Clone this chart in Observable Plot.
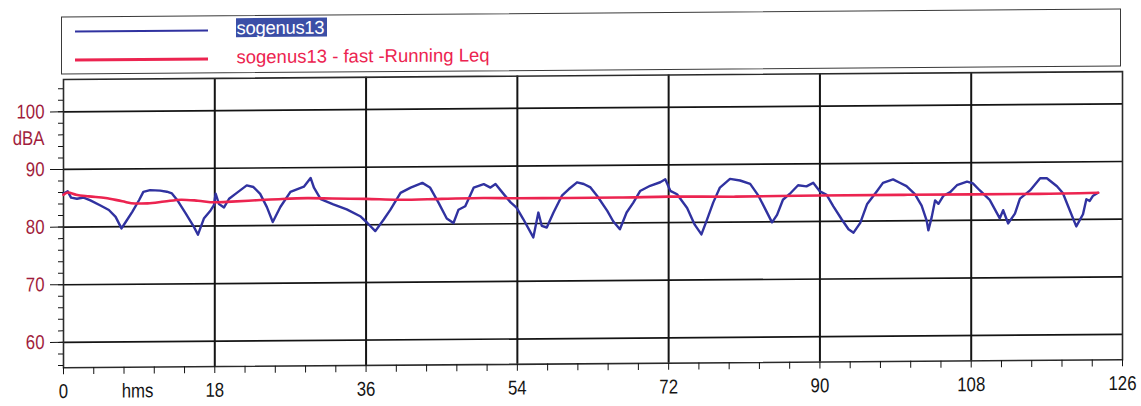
<!DOCTYPE html>
<html>
<head>
<meta charset="utf-8">
<script src="https://cdn.jsdelivr.net/npm/d3@7"></script>
<script src="https://cdn.jsdelivr.net/npm/@observablehq/plot@0.6"></script>
<style>
  html, body { margin: 0; padding: 0; background: #fff; }
  body { width: 1141px; height: 406px; overflow: hidden; font-family: "Liberation Sans", Arial, sans-serif; }
  /* the printed sheet sits very slightly tilted */
  #page { position: relative; width: 1141px; height: 406px; transform: skewY(-0.43deg); transform-origin: 0 0; }
  #chart { position: absolute; left: 0; top: 76px; }
  #legend { position: absolute; left: 61px; top: 17px; width: 1058px; height: 56px; border: 1.5px solid #3a3a3a; background: #fff; }
  .swatch { position: absolute; left: 12.5px; width: 133px; }
  .entry { position: absolute; left: 174.5px; font-size: 18.5px; line-height: 20px; white-space: pre; }
  .entry.selected { left: 173.5px; line-height: 19px; height: 19px; padding: 0 3px 0 1px; color: #fff; letter-spacing: -0.3px; }
</style>
</head>
<body>
<div id="page">
  <div id="chart"></div>
  <div id="legend"></div>
</div>
<script>
// Sound level, dBA, sampled along the hms time axis
const levelTime = [0.0, 0.5, 0.9, 1.6, 2.4, 3.2, 4.4, 5.4, 6.2, 6.9, 7.4, 8.2, 9.0, 9.5, 10.3, 11.5, 12.3, 12.9, 13.5, 14.5,
  15.5, 16.0, 16.7, 17.5, 17.9, 18.1, 18.5, 19.1, 19.7, 20.7, 21.8, 22.6, 23.4, 24.2, 24.9, 25.8, 27.0, 28.6, 29.4, 29.8,
  30.6, 32.1, 33.7, 35.3, 36.1, 37.1, 38.1, 38.9, 40.1, 41.3, 42.7, 43.6, 44.6, 45.6, 46.4, 47.0, 47.8, 48.8, 50.0, 50.8,
  51.4, 52.4, 53.2, 53.9, 54.7, 55.9, 56.5, 56.9, 57.5, 58.3, 59.3, 60.1, 61.1, 61.9, 62.7, 63.5, 64.7, 65.4, 66.2, 67.0,
  67.8, 68.6, 69.8, 71.0, 71.6, 72.2, 73.0, 74.2, 75.1, 75.9, 76.5, 77.3, 78.1, 79.3, 80.5, 81.7, 82.7, 83.5, 84.3, 84.9,
  85.6, 86.4, 87.4, 88.4, 89.2, 90.0, 90.8, 91.6, 92.6, 93.4, 94.0, 94.8, 95.6, 96.8, 97.5, 98.7, 99.5, 100.3, 101.3, 102.1,
  102.7, 102.9, 103.3, 103.7, 104.1, 104.7, 105.5, 106.3, 107.5, 108.2, 109.0, 110.2, 111.4, 111.8, 112.4, 113.2, 113.8, 115.0, 116.2, 117.0,
  118.2, 118.9, 119.7, 120.5, 121.3, 121.7, 122.1, 122.5, 123.1];
const levelDb = [85.8, 86.2, 85.1, 84.9, 85.1, 84.6, 83.7, 82.9, 81.7, 79.7, 80.8, 82.6, 84.6, 86.0, 86.3, 86.2, 86.0, 85.7, 84.6, 82.3,
  79.9, 78.5, 81.3, 82.7, 83.6, 85.6, 83.8, 83.2, 84.7, 85.8, 87.0, 86.7, 85.5, 83.2, 80.6, 83.2, 85.8, 86.7, 88.2, 86.5,
  84.5, 83.6, 82.7, 81.5, 80.4, 78.9, 80.9, 82.6, 85.5, 86.4, 87.2, 86.4, 83.8, 81.0, 80.2, 82.5, 83.1, 86.3, 86.9, 86.3,
  86.9, 85.1, 83.7, 82.8, 80.8, 77.6, 81.9, 79.6, 79.3, 81.9, 84.8, 85.9, 87.1, 86.8, 86.2, 84.7, 82.1, 80.3, 78.9, 81.8,
  83.5, 85.5, 86.4, 87.0, 87.5, 85.5, 84.9, 82.5, 79.6, 77.9, 80.2, 83.4, 86.0, 87.5, 87.2, 86.6, 84.5, 82.2, 79.9, 81.2,
  83.8, 84.8, 86.3, 86.1, 86.7, 85.2, 84.6, 82.6, 80.3, 78.6, 78.0, 79.7, 82.9, 85.2, 86.6, 87.2, 86.6, 86.0, 84.6, 82.6,
  80.0, 78.3, 80.6, 83.5, 82.9, 84.3, 84.9, 86.1, 86.7, 86.4, 85.2, 83.5, 80.3, 81.7, 79.4, 81.1, 83.7, 85.1, 87.2, 87.2,
  85.8, 84.6, 81.7, 78.8, 80.9, 83.5, 83.2, 84.1, 84.6];

// Running Leq (fast) of the same record
const leqTime = [0, 0.5, 1.5, 3, 5, 7, 8.5, 10, 12, 14, 16, 18, 20, 23, 26, 29, 32, 36, 40, 45, 50, 54, 60, 66, 72, 80, 90, 100, 108, 116, 123.1];
const leqDb = [85.6, 86.0, 85.6, 85.3, 85.0, 84.4, 84.0, 84.0, 84.3, 84.6, 84.4, 84.1, 84.2, 84.4, 84.6, 84.7, 84.6, 84.5, 84.3, 84.4,
  84.5, 84.4, 84.4, 84.4, 84.5, 84.4, 84.5, 84.5, 84.5, 84.5, 84.6];

// Series names and axis ticks
const seriesNames = ["sogenus13", "sogenus13 - fast -Running Leq"];
const seriesColors = ["#3032a0", "#ec2450"];
const xMajorTicks = [0, 18, 36, 54, 72, 90, 108, 126];
const xMinorTicks = d3.range(0, 36).map(i => +(i * 3.6).toFixed(1));
const yMajorTicks = [60, 70, 80, 90, 100];
const yMinorTicks = d3.range(56, 106, 2);
const xUnit = "hms";
const yUnit = "dBA";
const yUnitAt = [95.4];

const level = levelTime.map((t, i) => ({t, db: levelDb[i]}));
const leq = leqTime.map((t, i) => ({t, db: leqDb[i]}));

const ink = "#141414";
const tickRed = "#a11d3d";

const chart = Plot.plot({
  width: 1141,
  height: 330,
  marginLeft: 63,
  marginRight: 19,
  marginTop: 3.5,
  marginBottom: 38.3,
  x: {domain: [0, 126], axis: null},
  y: {domain: [55.6, 105.6], axis: null},
  style: {fontFamily: "'Liberation Sans', Arial, sans-serif", fontSize: "20px", background: "transparent", color: ink},
  marks: [
    Plot.gridY(yMajorTicks, {stroke: ink, strokeOpacity: 1, strokeWidth: 1.7}),
    Plot.gridX(xMajorTicks.filter(v => v > 0 && v < 126), {stroke: ink, strokeOpacity: 1, strokeWidth: 2}),
    Plot.frame({stroke: "#2a2a2a", strokeWidth: 1.6}),
    Plot.axisY(yMinorTicks, {anchor: "left", tickSize: 5, stroke: ink, tickFormat: () => "", label: null}),
    Plot.axisY(yMajorTicks, {anchor: "left", tickSize: 13, tickPadding: 6, stroke: ink, fill: tickRed, fontSize: 20, label: null}),
    Plot.text(yUnitAt, {y: d => d, text: () => yUnit, frameAnchor: "left", dx: -19, textAnchor: "end", fill: tickRed, fontSize: 20}),
    Plot.axisX(xMinorTicks, {anchor: "bottom", tickSize: 7, stroke: ink, tickFormat: () => "", label: null}),
    Plot.axisX(xMajorTicks, {anchor: "bottom", tickSize: 0, tickPadding: 16, fill: ink, fontSize: 20, label: null}),
    Plot.text([xUnit], {frameAnchor: "bottom-left", dx: 74, dy: 16, lineAnchor: "top", textAnchor: "middle", fill: ink, fontSize: 20}),
    Plot.line(level, {x: "t", y: "db", stroke: seriesColors[0], strokeWidth: 2.4, strokeLinejoin: "round"}),
    Plot.line(leq, {x: "t", y: "db", stroke: seriesColors[1], strokeWidth: 2.6, strokeLinejoin: "round", curve: "monotone-x"})
  ]
});
document.getElementById("chart").append(chart);

// Axis lettering is set in a narrow cut: squeeze each label's glyphs, keeping its anchor
d3.select(chart).selectAll("text").each(function() {
  const w = this.getComputedTextLength();
  if (w > 0) {
    this.setAttribute("textLength", (w * 0.84).toFixed(2));
    this.setAttribute("lengthAdjust", "spacingAndGlyphs");
  }
});

// Legend: a sample stroke and a name for each series
const legend = d3.select("#legend");
const swatchTops = [12.8, 41.2];
const swatchHeights = [2, 2.6];
const textTops = [1.5, 30.5];
seriesNames.forEach((name, i) => {
  legend.append("div").attr("class", "swatch")
    .style("top", swatchTops[i] + "px").style("height", swatchHeights[i] + "px")
    .style("background", seriesColors[i]);
  const label = legend.append("div").attr("class", i === 0 ? "entry selected" : "entry")
    .style("top", textTops[i] + "px").text(name);
  if (i === 0) label.style("background", "#3b4ea6");
  else label.style("color", seriesColors[i]);
});
</script>
</body>
</html>
